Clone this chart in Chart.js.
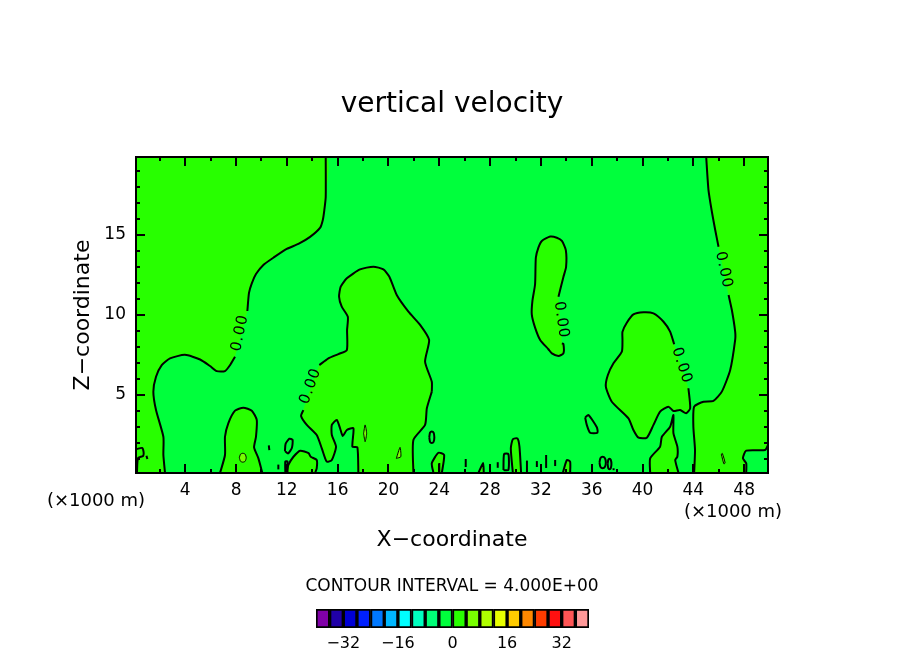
<!DOCTYPE html>
<html>
<head>
<meta charset="utf-8">
<style>
  html, body { margin: 0; padding: 0; background: #fff; }
  #wrap { position: relative; width: 904px; height: 654px; overflow: hidden; }
  canvas { position: absolute; left: 0; display: block; }
</style>
<script src="https://cdn.jsdelivr.net/npm/chart.js@4/dist/chart.umd.min.js"></script>
</head>
<body>
<div id="wrap">
  <canvas id="plot" width="904" height="654" style="top:0"></canvas>
  <canvas id="bar" width="904" height="64" style="top:590px"></canvas>
</div>
<script>
const FONT = '"DejaVu Sans"'

const xRange = [0.125, 49.875]
const zRange = [0.125, 19.875]
const xMajorTicks = [4, 8, 12, 16, 20, 24, 28, 32, 36, 40, 44, 48]
const xMinorTicks = [2, 6, 10, 14, 18, 22, 26, 30, 34, 38, 42, 46]
const zMajorTicks = [5, 10, 15]
const zMinorTicks = [1, 2, 3, 4, 6, 7, 8, 9, 11, 12, 13, 14, 16, 17, 18, 19]

// zero contours as [x, z]. Split where the 0.00 labels sit
const topLeftUpper = [[15.06,19.875],[15.06,17.375],[14.95,16.56],[14.83,15.94],[14.61,15.44],[13.83,14.88],[12.91,14.44],[11.99,14.13],[10.94,13.58],[10.15,13.13],[9.57,12.56],[9.24,11.98],[9.02,11.38],[8.89,10.25]]
const topLeftLower = [[7.92,7.39],[7.53,6.87],[7.13,6.49],[6.48,6.49],[5.95,6.81],[5.17,7.22],[3.98,7.51],[2.8,7.29],[2.15,6.87],[1.7,6.14],[1.49,5.21],[1.7,4.06],[2.28,2.39],[2.28,1.25],[2.41,0.125]]
const dome8 = [[6.74,0.125],[7.13,1.25],[7.13,2.39],[7.39,3.23],[7.92,4.02],[8.57,4.21],[9.24,4.02],[9.63,3.44],[9.57,2.39],[9.42,1.73],[9.76,1.04],[10.07,0.125]]
const middleUpper = [[23.41,5.21],[23.41,5.83],[22.88,7.08],[23.2,8.44],[22.49,9.38],[21.57,10.21],[20.65,11.25],[20.07,12.39],[19.6,12.85],[18.81,13.02],[17.76,12.85],[16.72,12.29],[16.24,11.77],[16.11,11.14],[16.32,10.52],[16.8,9.89],[16.74,9.06],[16.72,7.81],[16.06,7.56],[15.27,7.29],[14.56,6.87]]
const middleLeft = [[13.3,4.06],[13.12,3.69],[13.57,3.13],[14.35,2.5],[14.75,1.67],[15.14,0.83],[15.54,0.94],[15.87,1.77],[15.54,2.5],[15.54,3.13],[15.93,3.44],[16.19,2.92],[16.4,2.44],[16.72,2.81],[17.24,2.92],[17.16,1.77],[17.55,1.73],[17.63,0.125]]
const middleRight = [[21.96,0.125],[21.96,2.19],[22.88,3.13],[23.02,4.17],[23.41,5.21]]
const bump13 = [[11.96,0.125],[12.12,0.63],[12.52,1.14],[13.05,1.52],[13.71,1.36],[13.88,1.14],[14.35,0.94],[14.35,0.42],[14.22,0.125]]
const bump24 = [[23.54,0.125],[23.41,0.73],[23.93,1.39],[24.38,1.25],[24.2,0.125]]
const bump27 = [[27.08,0.125],[27.45,0.75],[27.5,0.125]]
const bump30 = [[29.79,0.125],[29.63,1.67],[29.79,2.23],[30.15,2.29],[30.31,1.77],[30.44,0.125]]
const bump34 = [[33.72,0.125],[34.04,0.94],[34.3,0.83],[34.3,0.125]]
const tall32Left = [[33.65,8.23],[33.77,8.19],[33.77,7.6],[33.38,7.44],[32.86,7.6],[32.59,7.86],[31.94,8.44],[31.54,9.21],[31.28,10.04],[31.33,10.88],[31.54,11.92],[31.6,13.58],[31.8,14.21],[32.07,14.63],[32.73,14.9],[33.25,14.83],[33.65,14.63],[33.96,14.06],[33.98,13],[33.77,12.38],[33.38,11.14]]
const right40Upper = [[42.49,8.17],[42.17,8.96],[41.65,9.58],[40.86,10.1],[40.07,10.17],[39.28,10.04],[38.76,9.52],[38.42,8.96],[38.42,8.44],[38.37,7.71],[37.71,6.98],[37.27,6.25],[37.11,5.52],[37.58,4.58],[38.89,3.54],[39.28,2.81],[39.68,2.33],[40.34,2.33],[40.86,3.13],[41.38,3.96],[42.04,4.27],[42.43,4],[42.96,4.06],[43.43,3.86],[43.75,4.17],[43.61,5.42]]
const foot42 = [[40.6,0.125],[40.6,1.04],[41.38,1.77],[41.52,2.39],[42.17,3.02],[42.43,3.75],[42.43,2.61],[42.74,1.77],[42.74,1.14],[42.57,0.94],[42.83,0.125]]
const rightUpper = [[45.01,19.875],[45.19,17.81],[45.46,16.44],[45.72,15.31],[45.98,14.27]]
const rightLower = [[46.77,11.25],[47.03,10.31],[47.29,8.96],[47.29,8.44],[46.9,6.56],[46.24,5.21],[45.58,4.63],[44.8,4.58],[44.06,4.27],[44,3.02],[44.13,1.56],[44.06,0.125]]
const rightCorner = [[48.16,0.125],[48.16,0.73],[47.9,1.04],[48.16,1.52],[49.65,1.56],[49.875,1.87]]
const cornerLoop = [[0.2,1.63],[0.6,1.69],[0.72,1.44],[0.68,1.19],[0.28,1.06],[0.2,0.125]]

// small closed contours with no change of colour inside
const smallLoops = [
  [[11.85,1.5],[11.9,1.95],[12.2,2.27],[12.45,2.2],[12.4,1.7],[12.1,1.35],[11.85,1.5]],
  [[23.21,2.36],[23.27,2.65],[23.41,2.72],[23.55,2.65],[23.61,2.36],[23.55,2.07],[23.41,2],[23.27,2.07],[23.21,2.36]],
  [[35.48,3.6],[35.74,3.75],[36.4,2.98],[36.45,2.64],[35.87,2.64],[35.61,3.13],[35.48,3.6]],
  [[36.61,0.78],[36.68,1.05],[36.86,1.14],[37.04,1.05],[37.11,0.78],[37.04,0.51],[36.86,0.42],[36.68,0.51],[36.61,0.78]],
  [[37.25,0.69],[37.3,0.95],[37.4,1.02],[37.5,0.95],[37.55,0.69],[37.5,0.43],[37.4,0.36],[37.3,0.43],[37.25,0.69]],
  [[29.05,0.31],[29.1,1.31],[29.44,1.31],[29.44,0.31],[29.05,0.31]],
  [[11.88,0.125],[11.88,0.85],[12.05,0.85],[12.05,0.125]]
]
// very short contour pieces close to the ground
const shortMarks = [
  [[0.95,1.2],[1.02,1]], [[10.58,1.85],[10.62,1.55]], [[11.33,0.65],[11.33,0.35]],
  [[24,0.125],[24,0.75]], [[26.08,0.5],[26.08,1]], [[28.6,0.45],[28.6,0.8]],
  [[30.9,0.125],[30.9,0.9]], [[31.68,0.5],[31.68,0.87]], [[32.41,0.44],[32.41,1.25]],
  [[33.12,0.56],[33.12,0.94]], [[37.72,0.3],[37.72,0.42]]
]
// the slightly stronger cells, next colour band up
const strongCells = [
  [[8.26,1.08],[8.35,1.3],[8.53,1.36],[8.72,1.3],[8.8,1.08],[8.72,0.86],[8.53,0.8],[8.35,0.86],[8.26,1.08]],
  [[18.04,2.6],[18.16,3.13],[18.28,2.6],[18.16,2.08],[18.04,2.6]],
  [[20.62,1.04],[20.91,1.73],[20.97,1.14],[20.62,1.04]],
  [[46.2,1.3],[46.28,1.35],[46.5,0.75],[46.4,0.7],[46.2,1.3]]
]

const contourLabel = '0.00'
const contourLabelX = [8.31, 13.87, 33.59, 46.39, 43.08]
const contourLabelZ = [8.88, 5.56, 9.69, 12.81, 6.84]
const contourLabelAngle = [-78, -70, 82, 78, 72]

// colour bar
const barLevels = [-38, -34, -30, -26, -22, -18, -14, -10, -6, -2, 2, 6, 10, 14, 18, 22, 26, 30, 34, 38]
const barColours = ['#8000a8', '#2000a8', '#0000d4', '#0020ff', '#0078ff', '#00b8ff', '#00ffff', '#00ffc0', '#00ff78', '#00ff3c', '#28ff00', '#78ff00', '#b0ff00', '#e8ff00', '#ffcc00', '#ff8800', '#ff3c00', '#ff1010', '#ff5555', '#ff9999']
const barTicks = [-32, -16, 0, 16, 32]

const bandBase = barColours[9]
const bandUp = barColours[10]
const bandUp2 = barColours[11]

const toPoints = function(list) {
  return list.map(function(p) { return {x: p[0], y: p[1]} })
}

const fillSet = function(list, colour) {
  return {data: toPoints(list), showLine: true, fill: 'shape', backgroundColor: colour, borderWidth: 0, pointRadius: 0, tension: 0.2}
}

const lineSet = function(list, width) {
  return {data: toPoints(list), showLine: true, fill: false, borderColor: '#000', borderWidth: width, pointRadius: 0, tension: 0.2, borderJoinStyle: 'round'}
}

const topLeftShape = [[xRange[0], zRange[1]]].concat(topLeftUpper, topLeftLower, [[xRange[0], zRange[0]]])
const middleShape = [].concat(middleUpper, middleLeft, middleRight)
const rightShape = rightUpper.concat(rightLower, rightCorner, [[xRange[1], zRange[1]]])

// first dataset is drawn last, so lines go in front of the fills
const datasets = []
;[topLeftUpper, topLeftLower, dome8, middleUpper, middleLeft, middleRight, bump13, bump24, bump27, bump30, bump34, tall32Left, right40Upper, foot42, rightUpper, rightLower, rightCorner, cornerLoop].forEach(function(s) {
  datasets.push(lineSet(s, 2))
})
smallLoops.forEach(function(s) { datasets.push(lineSet(s, 2)) })
shortMarks.forEach(function(s) { datasets.push(lineSet(s, 2)) })
strongCells.forEach(function(s) { datasets.push(lineSet(s, 1)) })
strongCells.forEach(function(c) { datasets.push(fillSet(c, bandUp2)) })
;[topLeftShape, dome8, middleShape, bump13, bump24, bump27, bump30, bump34, tall32Left, right40Upper, foot42, rightShape].forEach(function(s) {
  datasets.push(fillSet(s, bandUp))
})

const drawText = function(ctx, text, x, y, font, angle, spacing) {
  ctx.save()
  ctx.translate(x, y)
  ctx.rotate((angle || 0) * Math.PI / 180)
  ctx.font = font
  ctx.letterSpacing = (spacing || 0) + 'px'
  ctx.fillStyle = '#000'
  ctx.textAlign = 'center'
  ctx.textBaseline = 'middle'
  ctx.fillText(text, 0, 0)
  ctx.restore()
}

const plotBackground = {
  id: 'plotBackground',
  beforeDraw(chart) {
    const a = chart.chartArea
    chart.ctx.fillStyle = bandBase
    chart.ctx.fillRect(a.left, a.top, a.right - a.left, a.bottom - a.top)
  }
}

const frameAndTicks = {
  id: 'frameAndTicks',
  afterDatasetsDraw(chart) {
    const ctx = chart.ctx
    const a = chart.chartArea
    const sx = chart.scales.x
    const sy = chart.scales.y
    ctx.save()
    ctx.strokeStyle = '#000'
    ctx.lineWidth = 2
    const mark = function(x1, y1, x2, y2) {
      ctx.beginPath()
      ctx.moveTo(x1, y1)
      ctx.lineTo(x2, y2)
      ctx.stroke()
    }
    const xTick = function(v, len) {
      const p = Math.round(sx.getPixelForValue(v))
      mark(p, a.bottom, p, a.bottom - len)
      mark(p, a.top, p, a.top + len)
    }
    const zTick = function(v, len) {
      const p = Math.round(sy.getPixelForValue(v))
      mark(a.left, p, a.left + len, p)
      mark(a.right, p, a.right - len, p)
    }
    xMajorTicks.forEach(function(v) { xTick(v, 9) })
    xMinorTicks.forEach(function(v) { xTick(v, 4) })
    zMajorTicks.forEach(function(v) { zTick(v, 9) })
    zMinorTicks.forEach(function(v) { zTick(v, 4) })
    ctx.strokeRect(a.left, a.top, a.right - a.left, a.bottom - a.top)
    ctx.restore()

    contourLabelX.forEach(function(v, i) {
      drawText(ctx, contourLabel, sx.getPixelForValue(v), sy.getPixelForValue(contourLabelZ[i]), '15px ' + FONT, contourLabelAngle[i], 1)
    })
  }
}

const pageText = {
  id: 'pageText',
  afterDraw(chart) {
    const ctx = chart.ctx
    drawText(ctx, 'vertical velocity', 452, 105, '28px ' + FONT)
    drawText(ctx, 'X\u2212coordinate', 452, 540, '22px ' + FONT)
    drawText(ctx, 'Z\u2212coordinate', 83, 315, '22px ' + FONT, -90)
    drawText(ctx, '(\u00d71000 m)', 96, 501, '18px ' + FONT)
    drawText(ctx, '(\u00d71000 m)', 733, 512, '18px ' + FONT)
    drawText(ctx, 'CONTOUR INTERVAL = 4.000E+00', 452, 587, '17px ' + FONT)
  }
}

new Chart(document.getElementById('plot'), {
  type: 'scatter',
  data: {datasets: datasets},
  plugins: [plotBackground, frameAndTicks, pageText],
  options: {
    responsive: false,
    animation: false,
    devicePixelRatio: 1,
    layout: {padding: {top: 157, right: 136, bottom: 0, left: 0}},
    plugins: {legend: {display: false}, tooltip: {enabled: false}},
    scales: {
      x: {
        type: 'linear',
        min: xRange[0],
        max: xRange[1],
        grid: {display: false, drawTicks: false},
        border: {display: false},
        afterBuildTicks: function(axis) { axis.ticks = xMajorTicks.map(function(v) { return {value: v} }) },
        afterFit: function(axis) { axis.height = 181 },
        ticks: {autoSkip: false, maxRotation: 0, padding: 7, color: '#000', font: {family: 'DejaVu Sans', size: 17}, callback: function(v) { return String(v) }}
      },
      y: {
        type: 'linear',
        min: zRange[0],
        max: zRange[1],
        grid: {display: false, drawTicks: false},
        border: {display: false},
        afterBuildTicks: function(axis) { axis.ticks = zMajorTicks.map(function(v) { return {value: v} }) },
        afterFit: function(axis) { axis.width = 136 },
        ticks: {autoSkip: false, padding: 10, color: '#000', font: {family: 'DejaVu Sans', size: 17}, callback: function(v) { return String(v) }}
      }
    }
  }
})

new Chart(document.getElementById('bar'), {
  type: 'bar',
  data: {
    datasets: [{
      data: barLevels.map(function(v) { return {x: v, y: 1} }),
      backgroundColor: barColours,
      borderColor: '#000',
      borderWidth: 2,
      borderSkipped: false,
      barPercentage: 1,
      categoryPercentage: 1
    }]
  },
  options: {
    responsive: false,
    animation: false,
    devicePixelRatio: 1,
    layout: {padding: {top: 19, right: 315, bottom: 0, left: 316}},
    plugins: {legend: {display: false}, tooltip: {enabled: false}},
    scales: {
      x: {
        type: 'linear',
        min: -40,
        max: 40,
        offset: false,
        grid: {display: false, drawTicks: false},
        border: {display: false},
        afterBuildTicks: function(axis) { axis.ticks = barTicks.map(function(v) { return {value: v} }) },
        afterFit: function(axis) { axis.height = 26 },
        ticks: {autoSkip: false, maxRotation: 0, padding: 6, color: '#000', font: {family: 'DejaVu Sans', size: 16}, callback: function(v) { return String(v).replace('-', '\u2212') }}
      },
      y: {display: false, min: 0, max: 1}
    }
  }
})
</script>
</body>
</html>
